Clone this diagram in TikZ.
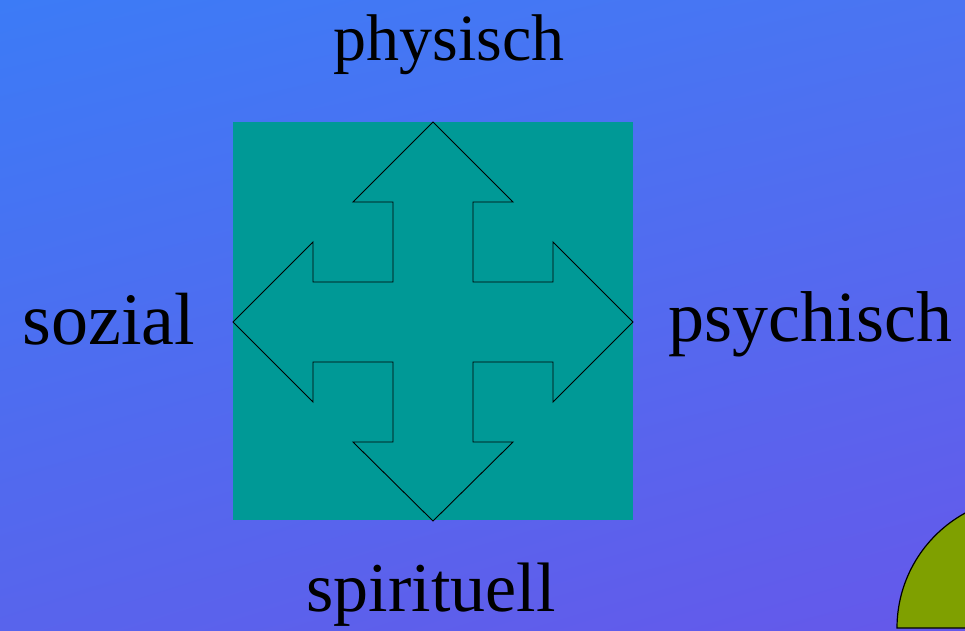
\documentclass[tikz,border=0pt]{standalone}
\usepackage{fontspec}
\setmainfont{Liberation Serif}
\usetikzlibrary{shadings,calc}
\definecolor{bgUL}{HTML}{3C7BF6}
\definecolor{bgUR}{HTML}{4B74F2}
\definecolor{bgLL}{HTML}{5864EC}
\definecolor{bgLR}{HTML}{6558EA}
\definecolor{sqteal}{HTML}{009996}
\definecolor{dotolive}{HTML}{7FA000}
\tikzset{
  lbl/.style={anchor=base, inner sep=0pt, text=black},
}
\begin{document}
\begin{tikzpicture}[x=1pt,y=-1pt]
\useasboundingbox (0,0) rectangle (965,630);
\shade[upper left=bgUL, upper right=bgUR, lower left=bgLL, lower right=bgLR] (0,0) rectangle (965,630);
% teal square
\fill[sqteal] (233,122) rectangle (633,520);
% four-way arrow
\coordinate (c) at (433,321);
\draw[black, line width=0.9pt, line join=miter, fill=sqteal] 
  ($(c)+(0,-199)$) -- ++(80,80) -- ++(-40,0) -- ++(0,80) -- ++(80,0) -- ++(0,-40) -- ++(80,80)
  -- ++(-80,80) -- ++(0,-40) -- ++(-80,0) -- ++(0,80) -- ++(40,0) -- ++(-80,79)
  -- ++(-80,-79) -- ++(40,0) -- ++(0,-80) -- ++(-80,0) -- ++(0,40) -- ++(-80,-80)
  -- ++(80,-80) -- ++(0,40) -- ++(80,0) -- ++(0,-80) -- ++(-40,0) -- cycle;
% olive half disk bottom right
\begin{scope}
\clip (0,0) rectangle (965,630);
\draw[black, line width=1.2pt, fill=dotolive] (897,628) arc[start angle=180, end angle=360, radius=131] -- cycle;
\end{scope}
% labels
\node[lbl, font=\fontsize{66}{66}\selectfont] (phys) at (449,60) {physisch};
\node[lbl, font=\fontsize{74}{74}\selectfont] (soz) at (109,344) {sozial};
\node[lbl, font=\fontsize{72}{72}\selectfont] (psy) at (810,341) {psychisch};
\node[lbl, font=\fontsize{70}{70}\selectfont] (spir) at (431,611) {spirituell};
\end{tikzpicture}
\end{document}
